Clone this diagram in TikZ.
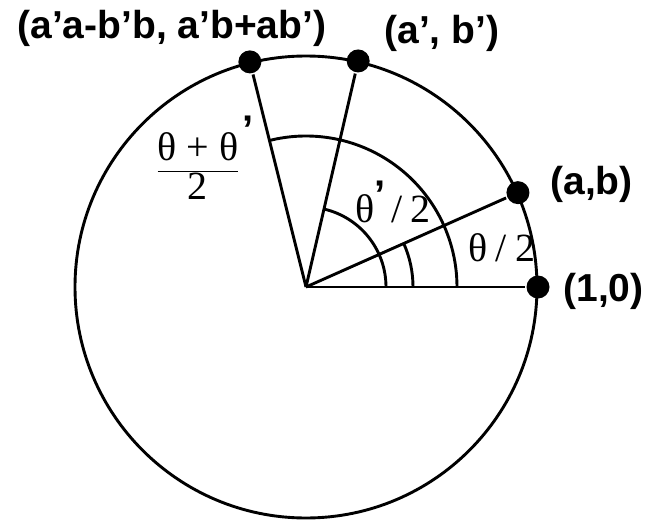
\documentclass[tikz,border=0pt]{standalone}
\usepackage{fontspec}
\setmainfont{Liberation Serif}
\newfontfamily\labfont{Liberation Sans}
\usetikzlibrary{positioning}
\tikzset{
  ptdot/.style={circle,fill=black,inner sep=0pt,minimum size=23pt},
  ptlab/.style={font=\labfont\bfseries\fontsize{39}{41}\selectfont,inner sep=0pt,anchor=west},
  anglab/.style={font=\fontsize{40}{42}\selectfont,inner sep=0pt}
}
\newcommand\bprime{{\labfont\bfseries ’}}

\begin{document}
\begin{tikzpicture}[x=1pt,y=1pt,line width=2.9pt]
  \useasboundingbox (-306,-233) rectangle (339,287);
  \coordinate (O) at (0,0);
  \draw (O) circle[radius=231];
  % points on the circle
  \node[ptdot] (p10) at (0:232) {};
  \node[ptdot] (pab) at (24:232) {};
  \node[ptdot] (pab2) at (77:232) {};
  \node[ptdot] (pprod) at (104:232) {};
  \draw (O) -- (p10); \draw (O) -- (pab); \draw (O) -- (pab2); \draw (O) -- (pprod);
  % angle arcs
  \draw (80,0) arc[start angle=0,end angle=77,radius=80];
  \draw (107,0) arc[start angle=0,end angle=24,radius=107];
  \draw (151,0) arc[start angle=0,end angle=104,radius=151];
  % labels
  \node[ptlab] (lprod) at (-290,259) {(a’a-b’b, a’b+ab’)};
  \node[ptlab] (lab2) at (77,254) {(a’, b’)};
  \node[ptlab] (lab) at (243,103) {(a,b)};
  \node[ptlab] (l10) at (256,-4) {(1,0)};
  \node[anglab] (th) at (196,39) {θ\hspace{0.2em}/\hspace{0.2em}2};
  \node[anglab,anchor=west] (th2) at (48,85) {θ\raisebox{0.35em}{\bprime}\hspace{0.15em}/\hspace{0.2em}2};
  \node[anglab] (thsum) at (-108,121)
     {$\displaystyle\frac{\mbox{θ + θ\rlap{\hspace{4pt}\smash{\raisebox{0.42em}{\bprime}}}}}{\mbox{2}}$};
\end{tikzpicture}
\end{document}
